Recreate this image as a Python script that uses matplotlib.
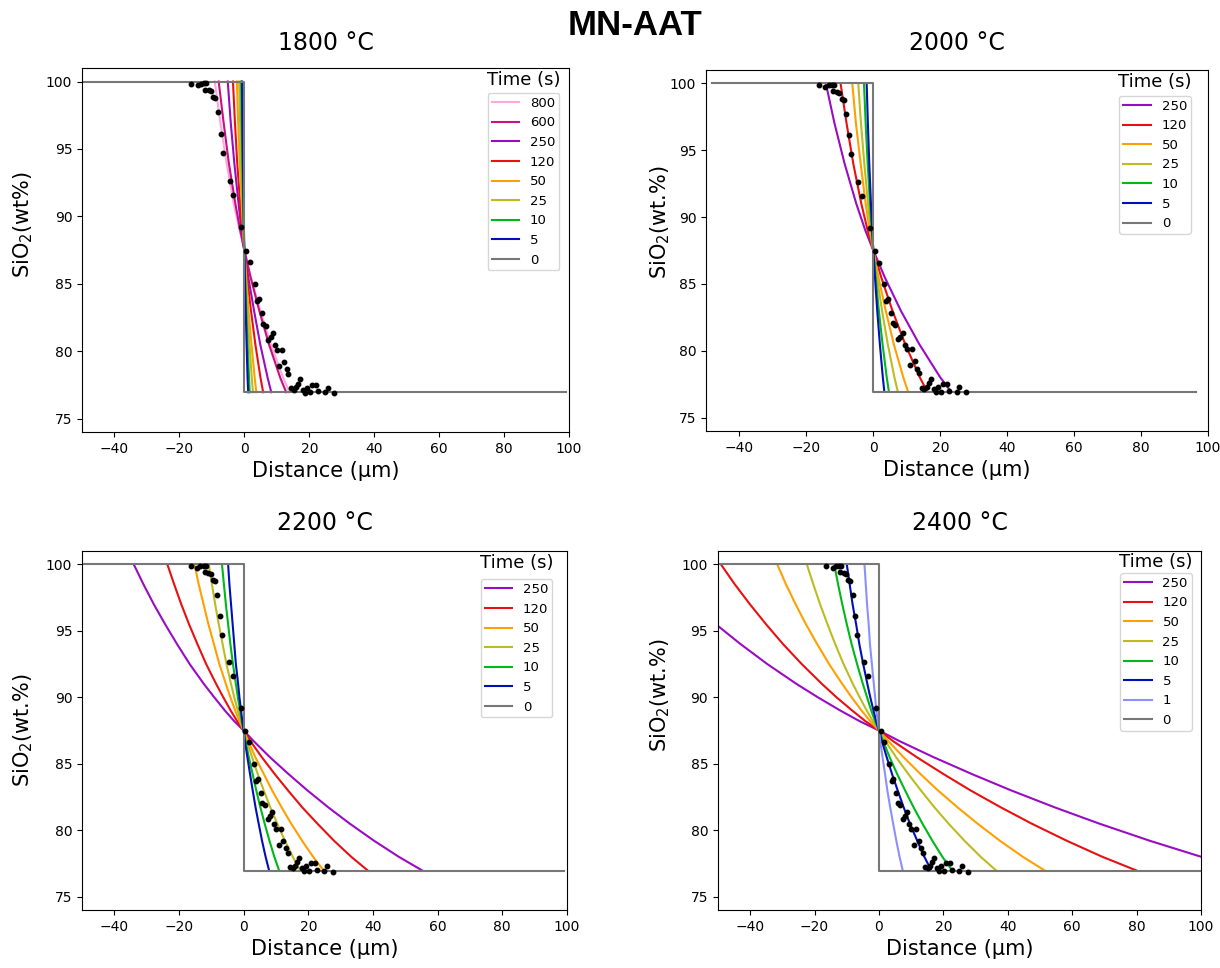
import matplotlib.pyplot as plt

# SiO2 levels (wt.%) at which the model profiles were read
levels = [100, 97, 94, 91, 89, 87.5, 85.5, 83, 80.5, 78, 76.95]
levels_fine = [100, 98.5, 97, 95.5, 94, 92.5, 91, 90, 89, 88.2, 87.5,
               86.7, 85.5, 84.2, 83, 81.7, 80.5, 79.2, 78, 76.95]

# measured profile (same data on every panel)
dist = [-16.3, -14.3, -13.4, -12.4, -11.7, -12.1, -10.9, -10.2, -9.5, -8.9,
        -8.1, -7.3, -6.7, -4.5, -3.4, -0.9, 0.5, 1.6, 3.2, 3.9,
        4.5, 5.3, 5.8, 6.6, 7.4, 8.1, 8.8, 9.4, 10.1, 11.5,
        10.8, 12.3, 13.1, 13.6, 14.4, 15.2, 15.9, 16.6, 17.2, 18.0,
        18.7, 19.4, 20.1, 20.8, 22.0, 22.7, 25.0, 25.7, 27.6]
sio2 = [99.85, 99.72, 99.85, 99.88, 99.88, 99.4, 99.38, 99.3, 98.82, 98.75,
        97.72, 96.1, 94.7, 92.65, 91.6, 89.2, 87.45, 86.6, 85.0, 83.72,
        83.88, 82.8, 82.05, 81.9, 80.85, 81.05, 81.35, 80.45, 80.12, 80.1,
        78.92, 79.2, 78.65, 78.3, 77.25, 77.15, 77.32, 77.58, 77.9, 77.15,
        76.92, 77.3, 76.95, 77.5, 77.5, 77.02, 76.95, 77.28, 76.88]

# model profiles: distance (um) at each SiO2 level, one row per time
times_1800 = ['800', '600', '250', '120', '50', '25', '10', '5']
x_1800 = [
    [-9.1, -7.4, -5.5, -3.3, -1.5, 0, 2.0, 4.9, 8.2, 12.0, 13.9],
    [-7.9, -6.4, -4.8, -2.8, -1.3, 0, 1.9, 4.6, 7.6, 11.1, 12.9],
    [-5.1, -4.2, -3.1, -1.8, -0.9, 0, 1.2, 3.0, 4.9, 7.2, 8.3],
    [-3.5, -2.9, -2.2, -1.3, -0.6, 0, 0.85, 2.05, 3.4, 5.0, 5.8],
    [-2.3, -1.9, -1.4, -0.8, -0.4, 0, 0.55, 1.3, 2.2, 3.2, 3.7],
    [-1.6, -1.3, -1.0, -0.6, -0.3, 0, 0.4, 0.95, 1.6, 2.3, 2.65],
    [-1.0, -0.8, -0.6, -0.4, -0.2, 0, 0.25, 0.6, 1.0, 1.45, 1.65],
    [-0.7, -0.6, -0.45, -0.25, -0.12, 0, 0.17, 0.42, 0.7, 1.0, 1.2],
]

times_2000 = ['250', '120', '50', '25', '10', '5']
x_2000 = [
    [-14.2, -11.6, -8.6, -5.1, -2.4, 0, 3.4, 8.2, 13.7, 20.0, 23.2],
    [-9.8, -8.0, -6.0, -3.6, -1.7, 0, 2.35, 5.7, 9.5, 13.9, 16.1],
    [-6.3, -5.2, -3.8, -2.3, -1.1, 0, 1.5, 3.7, 6.1, 8.95, 10.35],
    [-4.5, -3.7, -2.7, -1.6, -0.76, 0, 1.07, 2.6, 4.3, 6.3, 7.3],
    [-2.8, -2.3, -1.7, -1.0, -0.48, 0, 0.68, 1.64, 2.74, 4.0, 4.63],
    [-2.0, -1.64, -1.22, -0.72, -0.34, 0, 0.48, 1.16, 1.94, 2.83, 3.28],
]

times_2200 = ['250', '120', '50', '25', '10', '5']
x_2200 = [
    [-34.0, -31.0, -27.8, -24.3, -20.6, -16.7, -12.3, -9.1, -5.8, -2.9, 0,
     3.1, 8.1, 14.0, 19.7, 26.3, 32.8, 40.4, 48.0, 55.4],
    [-23.6, -21.5, -19.3, -16.9, -14.3, -11.6, -8.5, -6.3, -4.0, -2.0, 0,
     2.1, 5.6, 9.7, 13.7, 18.2, 22.8, 28.0, 33.3, 38.5],
    [-15.2, -13.9, -12.4, -10.9, -9.2, -7.5, -5.5, -4.1, -2.6, -1.3, 0,
     1.4, 3.6, 6.3, 8.8, 11.8, 14.7, 18.1, 21.5, 24.8],
    [-10.8, -9.8, -8.8, -7.7, -6.5, -5.3, -3.9, -2.9, -1.8, -0.9, 0,
     1.0, 2.6, 4.4, 6.2, 8.3, 10.4, 12.8, 15.2, 17.6],
    [-6.7, -6.1, -5.5, -4.8, -4.1, -3.3, -2.4, -1.8, -1.1, -0.6, 0,
     0.6, 1.6, 2.8, 3.9, 5.2, 6.5, 8.0, 9.5, 11.0],
    [-4.8, -4.4, -3.9, -3.4, -2.9, -2.4, -1.7, -1.3, -0.8, -0.4, 0,
     0.4, 1.15, 2.0, 2.8, 3.7, 4.65, 5.7, 6.8, 7.9],
]

times_2400 = ['250', '120', '50', '25', '10', '5', '1']
x_2400 = [
    [-70.8, -64.6, -57.9, -50.7, -43.0, -34.7, -25.6, -19.0, -12.0, -6.0, 0,
     6.4, 16.9, 29.1, 41.0, 54.8, 68.4, 84.2, 100.1, 115.5],
    [-49.1, -44.8, -40.1, -35.1, -29.8, -24.0, -17.7, -13.2, -8.3, -4.2, 0,
     4.4, 11.7, 20.2, 28.4, 38.0, 47.4, 58.4, 69.4, 80.2],
    [-31.6, -28.9, -25.9, -22.7, -19.2, -15.5, -11.4, -8.5, -5.4, -2.7, 0,
     2.9, 7.6, 13.0, 18.3, 24.5, 30.6, 37.6, 44.7, 51.6],
    [-22.4, -20.4, -18.3, -16.0, -13.6, -11.0, -8.1, -6.0, -3.8, -1.9, 0,
     2.0, 5.3, 9.2, 13.0, 17.3, 21.6, 26.6, 31.6, 36.5],
    [-13.9, -12.7, -11.4, -10.0, -8.5, -6.8, -5.0, -3.7, -2.4, -1.2, 0,
     1.3, 3.3, 5.7, 8.1, 10.8, 13.5, 16.6, 19.7, 22.8],
    [-10.0, -9.1, -8.2, -7.1, -6.1, -4.9, -3.6, -2.7, -1.7, -0.85, 0,
     0.9, 2.4, 4.1, 5.8, 7.7, 9.6, 11.9, 14.1, 16.3],
    [-4.5, -4.1, -3.7, -3.2, -2.8, -2.2, -1.6, -1.2, -0.8, -0.4, 0,
     0.4, 1.1, 1.9, 2.6, 3.5, 4.4, 5.4, 6.4, 7.4],
]

# initial step profile (t = 0): x extent of the plateaus
step_ends = [(-50, 99), (-48.3, 96.5), (-50, 99), (-50, 100)]
step_hi, step_lo = 100, 76.95

temps = ['1800 °C', '2000 °C', '2200 °C', '2400 °C']
ylabels = [r'SiO$_2$(wt%)', r'SiO$_2$(wt.%)', r'SiO$_2$(wt.%)', r'SiO$_2$(wt.%)']

colors = {'800': '#ffa8dc', '600': '#c8107e', '250': '#9a0cc4', '120': '#e81010',
          '50': '#ffa000', '25': '#bcbc22', '10': '#00b818', '5': '#0010b8',
          '1': '#8c90ff', '0': '#777777'}

# layout (figure fractions)
boxes = [[0.0672, 0.5537, 0.3992, 0.3760],
         [0.5787, 0.5548, 0.4115, 0.3729],
         [0.0672, 0.0599, 0.3975, 0.3709],
         [0.5885, 0.0599, 0.3959, 0.3709]]
title_pads = [13, 14.4, 15, 15]
leg_anchor = [(0.980, 0.932), (0.966, 0.929), (0.970, 0.922), (0.981, 0.939)]
leg_title_off = [12.7, 14, 15.7, 11]
ylab_pos = [(-0.097, 0.57), (-0.068, 0.58), (-0.096, 0.50), (-0.096, 0.60)]

fig = plt.figure(figsize=(12.2, 9.68), dpi=100)

panels = [(times_1800, x_1800, levels), (times_2000, x_2000, levels),
          (times_2200, x_2200, levels_fine), (times_2400, x_2400, levels_fine)]

legends = []
for i, (times, xs, lv) in enumerate(panels):
    ax = fig.add_axes(boxes[i])
    for t, xv in zip(times, xs):
        ax.plot(xv, lv, color=colors[t], lw=1.5, label=t)
    xl, xr = step_ends[i]
    ax.plot([xl, 0, 0, xr], [step_hi, step_hi, step_lo, step_lo],
            color=colors['0'], lw=1.5, label='0')
    ax.plot(dist, sio2, 'o', color='black', ms=3.2, zorder=5)

    ax.set_xlim(-50, 100)
    ax.set_ylim(74, 101)
    ax.set_xticks([-40, -20, 0, 20, 40, 60, 80, 100])
    ax.set_yticks([75, 80, 85, 90, 95, 100])
    ax.tick_params(labelsize=10)
    ax.set_title(temps[i], fontsize=17, pad=title_pads[i])
    ax.set_xlabel('Distance (µm)', fontsize=15)
    ax.set_ylabel(ylabels[i], fontsize=15)
    ax.yaxis.set_label_coords(*ylab_pos[i])

    leg = ax.legend(loc='upper right', bbox_to_anchor=leg_anchor[i],
                    borderaxespad=0, fontsize=9.5, borderpad=0.3,
                    handlelength=2.1, labelspacing=0.5)
    legends.append(leg)

fig.text(0.5205, 0.974, 'MN-AAT', fontsize=25, fontweight='bold',
         family='Liberation Sans', ha='center', va='center')

# legend titles sit above the legend frame
fig.canvas.draw()
renderer = fig.canvas.get_renderer()
W, H = fig.bbox.width, fig.bbox.height
for leg, off in zip(legends, leg_title_off):
    bb = leg.get_window_extent(renderer)
    fig.text((bb.x0 + bb.x1) / 2 / W, (bb.y1 + off) / H, 'Time (s)',
             fontsize=13, ha='center', va='center')

fig.savefig('out.png', dpi=100)
